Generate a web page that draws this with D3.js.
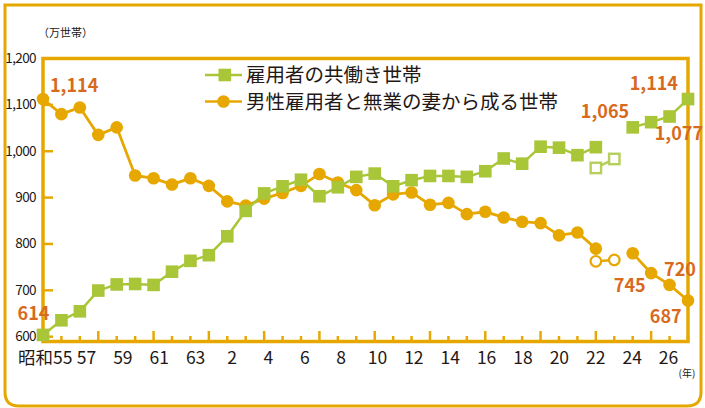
<!DOCTYPE html>
<html lang="ja">
<head>
    <meta charset="UTF-8">
    <title>共働き等世帯数の推移</title>
    <script src="https://d3js.org/d3.v7.min.js"></script>
    <style>
        body { margin: 0; background: #fff; }
        text { font-family: "Noto Sans CJK JP", "Noto Sans", sans-serif; fill: #231815; }
        .val { font-weight: bold; fill: #d86a1e; font-size: 18px; }
    </style>
</head>
<body>
    <script>
        const width = 705;
        const height = 408;

        // 年（昭和55年〜平成27年）
        const categories = ["昭和55", "56", "57", "58", "59", "60", "61", "62", "63", "平成元",
            "2", "3", "4", "5", "6", "7", "8", "9", "10", "11", "12", "13", "14", "15", "16",
            "17", "18", "19", "20", "21", "22", "23", "24", "25", "26", "27"];
        const tickLabels = ["昭和55", "57", "59", "61", "63", "2", "4", "6", "8", "10", "12",
            "14", "16", "18", "20", "22", "24", "26"];
        const yTicks = [600, 700, 800, 900, 1000, 1100, 1200];

        // 雇用者の共働き世帯（万世帯）
        const dual = [614, 645, 664, 708, 721, 722, 720, 748, 771, 783, 823, 877, 914, 929, 943,
            908, 927, 949, 956, 929, 942, 951, 951, 949, 961, 988, 977, 1013, 1011, 995, 1012,
            null, 1054, 1065, 1077, 1114];
        // 男性雇用者と無業の妻から成る世帯（万世帯）
        const single = [1114, 1082, 1096, 1038, 1054, 952, 946, 933, 946, 930, 897, 888, 903,
            915, 930, 955, 937, 921, 889, 912, 916, 890, 894, 870, 875, 863, 854, 851, 825, 831,
            797, null, 787, 745, 720, 687];
        // 岩手・宮城・福島を除く値（白抜き）
        const hollowYears = ["22", "23"];
        const dualHollow = [968, 987];
        const singleHollow = [770, 773];

        const gold = "#e6a800";
        const green = "#a8c637";
        const greenLight = "#b4cf5a";

        const svg = d3.select("body").append("svg")
            .attr("width", width)
            .attr("height", height);

        const x = d3.scalePoint().domain(categories).range([43, 688]);
        // year labels sit on a slightly tighter spacing than the marks
        const xLabel = d3.scalePoint().domain(categories).range([49.6, 686.2]);
        const y = d3.scaleLinear().domain([600, 1200]).range([341.5, 58.5]);

        // outer frame
        svg.append("path")
            .attr("d", "M5,5 H701 V392 Q701,406 687,406 H19 Q5,406 5,392 Z")
            .attr("fill", "none")
            .attr("stroke", gold)
            .attr("stroke-width", 3);

        // plot frame
        svg.append("rect")
            .attr("x", 43).attr("y", 58.5)
            .attr("width", 645).attr("height", 283)
            .attr("fill", "none")
            .attr("stroke", gold)
            .attr("stroke-width", 3.5);

        // y axis (tick rows are drawn a touch tighter than the data scale, as in the original)
        const yAxis = svg.append("g")
            .attr("transform", "translate(43,0)")
            .call(d3.axisLeft(y).tickValues(yTicks).tickSize(-10).tickPadding(7)
                .tickFormat(d3.format(",")));
        yAxis.select(".domain").remove();
        yAxis.selectAll(".tick")
            .attr("transform", d => `translate(0,${y(d) - (1200 - d) / 600 * 4.8})`);
        yAxis.selectAll("line").attr("stroke", gold).attr("stroke-width", 2.5);
        yAxis.selectAll("text")
            .attr("font-size", 13.5)
            .attr("letter-spacing", -0.6)
            .style("font-family", "'Noto Sans CJK JP', sans-serif")
            .attr("fill", "#231815");

        svg.append("text")
            .attr("x", 38).attr("y", 37)
            .attr("font-size", 11)
            .text("（万世帯）");

        // x ticks
        svg.append("g")
            .selectAll("line")
            .data(categories)
            .join("line")
            .attr("x1", d => x(d)).attr("x2", d => x(d))
            .attr("y1", 341)
            .attr("y2", (d, i) => i % 3 === 0 ? 331 : 336)
            .attr("stroke", gold)
            .attr("stroke-width", 2.5);

        const xAxis = svg.append("g")
            .attr("transform", "translate(0,341)")
            .call(d3.axisBottom(xLabel).tickValues(tickLabels).tickSize(0).tickPadding(11));
        xAxis.select(".domain").remove();
        xAxis.selectAll("text")
            .attr("font-size", 17.5)
            .style("font-family", "'Noto Sans CJK JP', sans-serif")
            .attr("fill", "#231815");
        xAxis.selectAll("text")
            .filter(d => d === "昭和55")
            .attr("text-anchor", "end")
            .attr("dx", 72 - xLabel("昭和55"));

        svg.append("text")
            .attr("x", 687).attr("y", 377)
            .attr("text-anchor", "middle")
            .attr("font-size", 10)
            .text("(年)");

        const line = d3.line()
            .defined(d => d.v !== null)
            .x(d => x(d.c))
            .y(d => y(d.v));

        const singleData = categories.map((c, i) => ({c, v: single[i]}));
        const dualData = categories.map((c, i) => ({c, v: dual[i]}));
        const singleHollowData = hollowYears.map((c, i) => ({c, v: singleHollow[i]}));
        const dualHollowData = hollowYears.map((c, i) => ({c, v: dualHollow[i]}));

        // 男性雇用者と無業の妻から成る世帯
        svg.append("path")
            .datum(singleData)
            .attr("d", line)
            .attr("fill", "none")
            .attr("stroke", gold)
            .attr("stroke-width", 2.8);
        svg.append("path")
            .datum(singleHollowData)
            .attr("d", line)
            .attr("fill", "none")
            .attr("stroke", gold)
            .attr("stroke-width", 2.5);
        svg.append("g")
            .selectAll("circle")
            .data(singleData.filter(d => d.v !== null))
            .join("circle")
            .attr("cx", d => x(d.c))
            .attr("cy", d => y(d.v))
            .attr("r", 6.3)
            .attr("fill", gold);
        svg.append("g")
            .selectAll("circle")
            .data(singleHollowData)
            .join("circle")
            .attr("cx", d => x(d.c))
            .attr("cy", d => y(d.v))
            .attr("r", 5.3)
            .attr("fill", "#fff")
            .attr("stroke", gold)
            .attr("stroke-width", 2.2);

        // 雇用者の共働き世帯
        svg.append("path")
            .datum(dualData)
            .attr("d", line)
            .attr("fill", "none")
            .attr("stroke", green)
            .attr("stroke-width", 2.5);
        svg.append("path")
            .datum(dualHollowData)
            .attr("d", line)
            .attr("fill", "none")
            .attr("stroke", greenLight)
            .attr("stroke-width", 2.5);
        svg.append("g")
            .selectAll("rect")
            .data(dualData.filter(d => d.v !== null))
            .join("rect")
            .attr("x", d => x(d.c) - 6.3)
            .attr("y", d => y(d.v) - 6.3)
            .attr("width", 12.6)
            .attr("height", 12.6)
            .attr("fill", green);
        svg.append("g")
            .selectAll("rect")
            .data(dualHollowData)
            .join("rect")
            .attr("x", d => x(d.c) - 5.2)
            .attr("y", d => y(d.v) - 5.2)
            .attr("width", 10.4)
            .attr("height", 10.4)
            .attr("fill", "#fff")
            .attr("stroke", greenLight)
            .attr("stroke-width", 2.4);

        // value labels
        const fmt = d3.format(",");
        const labelSpots = [
            {arr: single, i: 0, dx: 7, dy: -14, anchor: "start"},
            {arr: dual, i: 0, dx: -9.5, dy: -21, anchor: "middle"},
            {arr: dual, i: 33, dx: -22, dy: -11, anchor: "end"},
            {arr: dual, i: 34, dx: 33.5, dy: 17, anchor: "end"},
            {arr: dual, i: 35, dx: -10, dy: -16, anchor: "end"},
            {arr: single, i: 33, dx: -5.5, dy: 12, anchor: "end"},
            {arr: single, i: 34, dx: -5.5, dy: -15, anchor: "start"},
            {arr: single, i: 35, dx: -6.3, dy: 16.5, anchor: "end"}
        ];
        svg.append("g")
            .selectAll("text")
            .data(labelSpots)
            .join("text")
            .attr("class", "val")
            .attr("x", d => x(categories[d.i]) + d.dx)
            .attr("y", d => y(d.arr[d.i]) + d.dy)
            .attr("dy", "0.36em")
            .attr("text-anchor", d => d.anchor)
            .text(d => fmt(d.arr[d.i]));

        // legend
        const legend = svg.append("g");
        const legendItems = [
            {name: "雇用者の共働き世帯", color: green, shape: "square"},
            {name: "男性雇用者と無業の妻から成る世帯", color: gold, shape: "circle"}
        ];
        legendItems.forEach((item, k) => {
            const ly = 75 + k * 26.5;
            legend.append("line")
                .attr("x1", 205).attr("x2", 242)
                .attr("y1", ly).attr("y2", ly)
                .attr("stroke", item.color)
                .attr("stroke-width", 2.5);
            if (item.shape === "square") {
                legend.append("rect")
                    .attr("x", 218.5).attr("y", ly - 6.3)
                    .attr("width", 12.6).attr("height", 12.6)
                    .attr("fill", item.color);
            } else {
                legend.append("circle")
                    .attr("cx", 223.5).attr("cy", ly)
                    .attr("r", 6.3)
                    .attr("fill", item.color);
            }
            legend.append("text")
                .attr("x", 246).attr("y", ly)
                .attr("dy", "0.36em")
                .attr("font-size", 19.5)
                .text(item.name);
        });
    </script>
</body>
</html>
